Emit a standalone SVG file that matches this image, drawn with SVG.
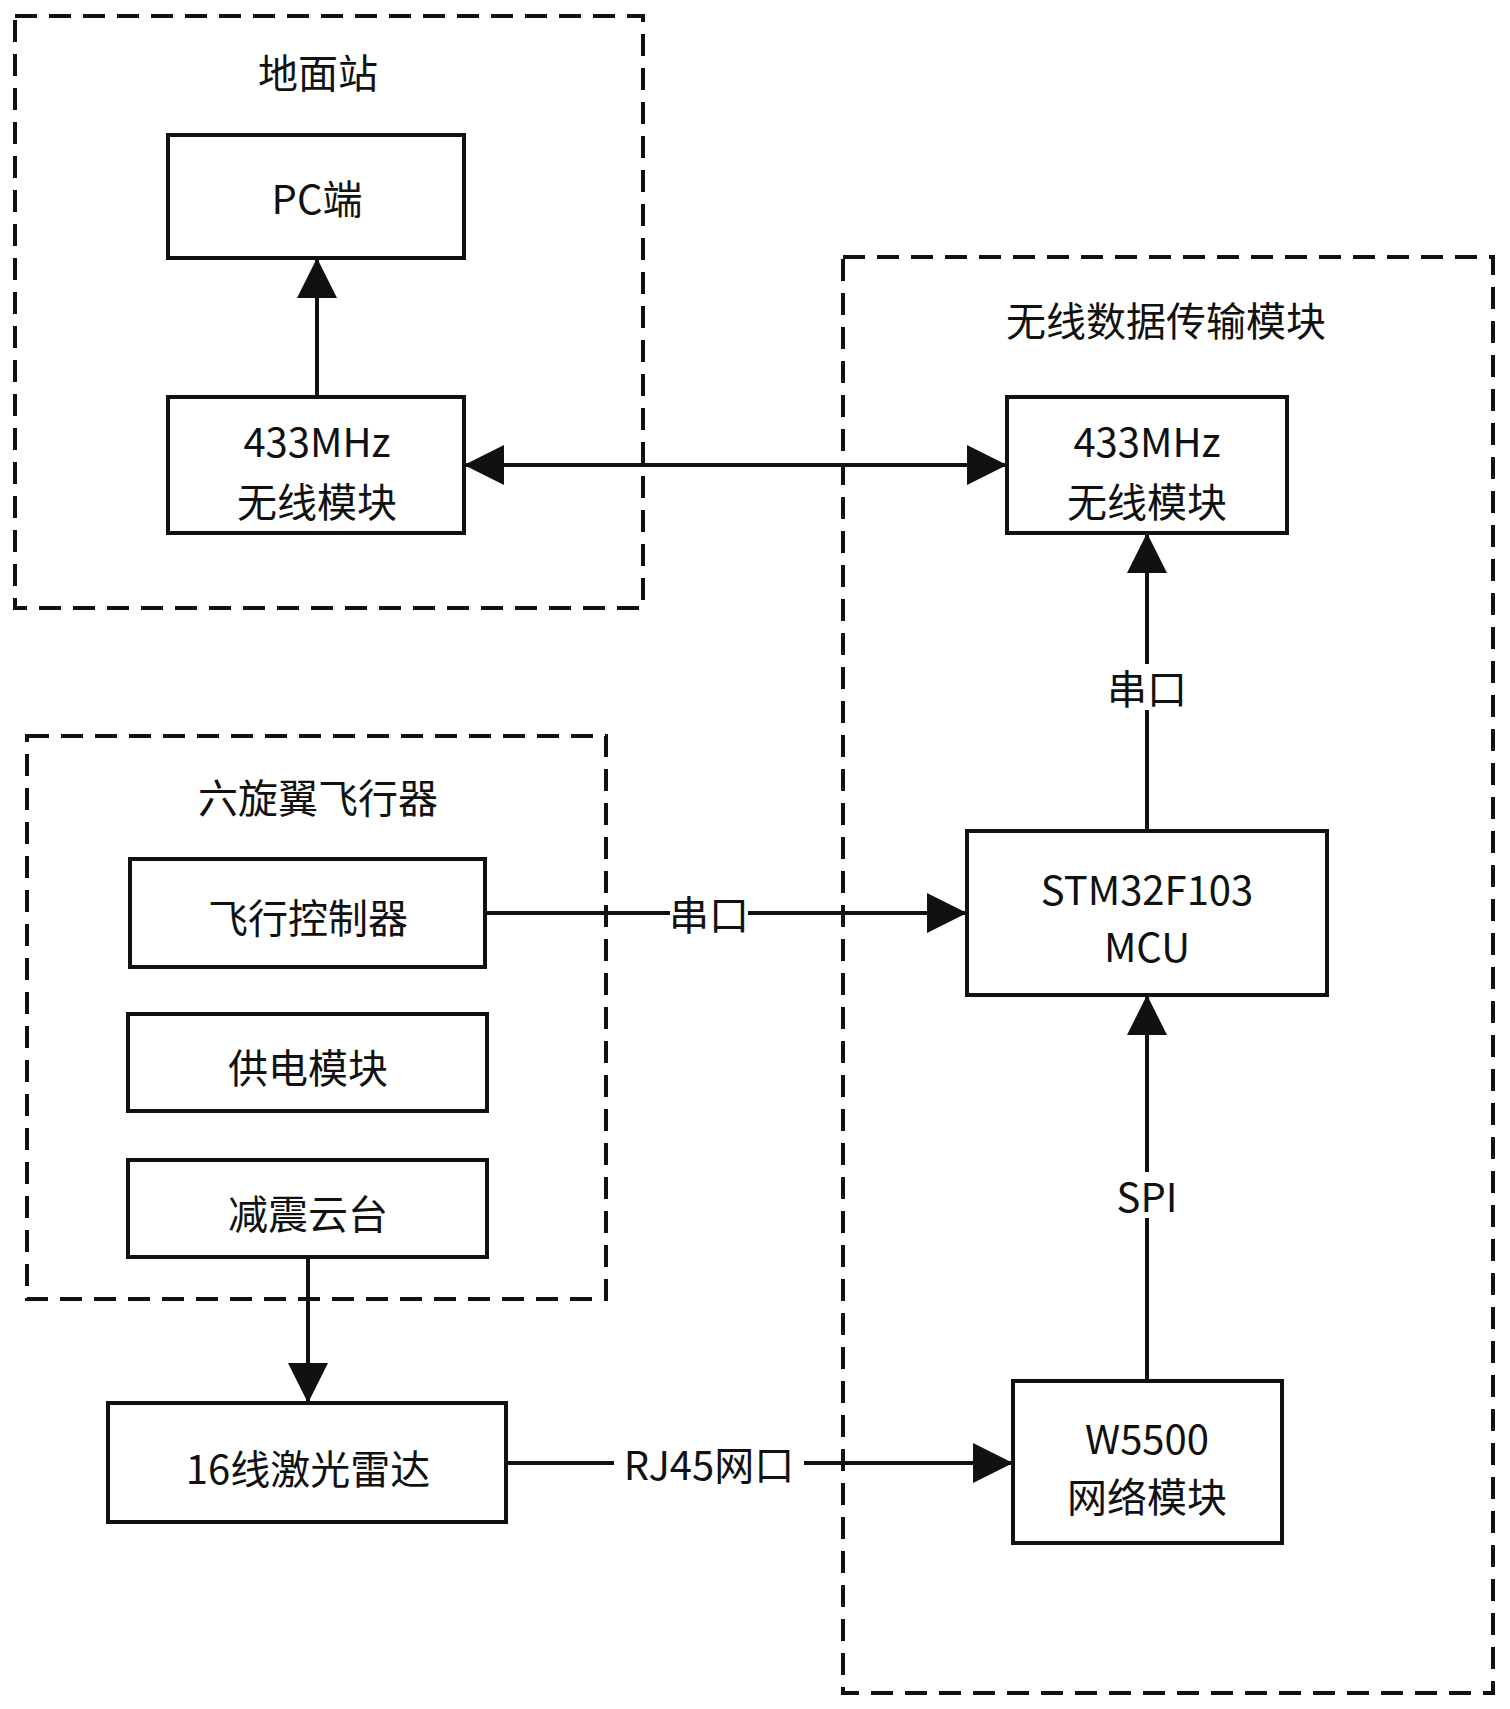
<svg xmlns="http://www.w3.org/2000/svg" width="1510" height="1709" viewBox="0 0 1510 1709">
<style>
text{font-family:"Noto Sans CJK SC","Noto Sans",sans-serif;font-size:40px;fill:#111;text-anchor:middle;dominant-baseline:central}
.box{fill:#fff;stroke:#111;stroke-width:4}
.grp{fill:none;stroke:#111;stroke-width:4;stroke-dasharray:22 12}
.ln{stroke:#111;stroke-width:4;fill:none}
.lb{fill:#fff}
</style>
<defs><marker id="b" viewBox="0 0 10 10" refX="10" refY="5" markerWidth="13" markerHeight="10" orient="auto-start-reverse"><path d="M0,0L10,5L0,10z" fill="#111"/></marker></defs>
<rect width="1510" height="1709" fill="#fff"/>
<g id="ground"><rect class="grp" x="15" y="16" width="628" height="592"/><text x="318" y="71">地面站</text></g>
<g id="wireless"><rect class="grp" x="843" y="257" width="650" height="1436"/><text x="1166" y="319">无线数据传输模块</text></g>
<g id="hexa"><rect class="grp" x="27" y="736" width="579" height="563"/><text x="318" y="796">六旋翼飞行器</text></g>
<g id="conn">
<path class="ln" d="M317,397V258" marker-end="url(#b)"/>
<path class="ln" d="M464,465H1007" marker-start="url(#b)" marker-end="url(#b)"/>
<path class="ln" d="M1147,831V533" marker-end="url(#b)"/>
<path class="ln" d="M485,913H967" marker-end="url(#b)"/>
<path class="ln" d="M308,1257V1403" marker-end="url(#b)"/>
<path class="ln" d="M506,1463H1013" marker-end="url(#b)"/>
<path class="ln" d="M1147,1381V995" marker-end="url(#b)"/>
<rect class="lb" x="1108" y="664" width="78" height="46"/><text x="1147" y="687">串口</text>
<rect class="lb" x="670" y="890" width="78" height="46"/><text x="709" y="913">串口</text>
<rect class="lb" x="1120" y="1172" width="54" height="46"/><text x="1147" y="1195">SPI</text>
<rect class="lb" x="614" y="1440" width="190" height="46"/><text x="709" y="1463">RJ45网口</text>
</g>
<g id="pc"><rect class="box" x="168" y="135" width="296" height="123"/><text x="317" y="197">PC端</text></g>
<g id="rf1"><rect class="box" x="168" y="397" width="296" height="136"/><text x="317" y="440">433MHz</text><text x="317" y="500">无线模块</text></g>
<g id="rf2"><rect class="box" x="1007" y="397" width="280" height="136"/><text x="1147" y="440">433MHz</text><text x="1147" y="500">无线模块</text></g>
<g id="mcu"><rect class="box" x="967" y="831" width="360" height="164"/><text x="1147" y="888">STM32F103</text><text x="1147" y="945">MCU</text></g>
<g id="fc"><rect class="box" x="130" y="859" width="355" height="108"/><text x="308" y="916">飞行控制器</text></g>
<g id="pwr"><rect class="box" x="128" y="1014" width="359" height="97"/><text x="308" y="1066">供电模块</text></g>
<g id="gimbal"><rect class="box" x="128" y="1160" width="359" height="97"/><text x="308" y="1212">减震云台</text></g>
<g id="lidar"><rect class="box" x="108" y="1403" width="398" height="119"/><text x="308" y="1467">16线激光雷达</text></g>
<g id="w5500"><rect class="box" x="1013" y="1381" width="269" height="162"/><text x="1147" y="1437">W5500</text><text x="1147" y="1495">网络模块</text></g>
</svg>
